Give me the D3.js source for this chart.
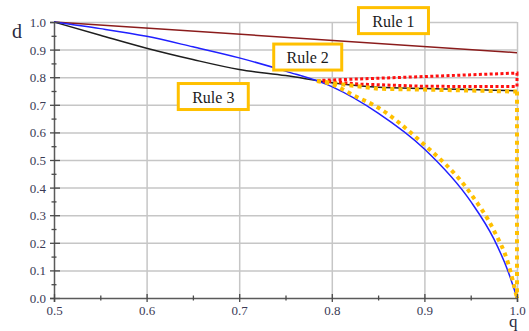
<!DOCTYPE html>
<html lang="en">
<head>
    <meta charset="UTF-8">
    <title>Rules d vs q</title>
    <script src="https://d3js.org/d3.v7.min.js"></script>
    <style>
        body { margin: 0; background: #fff; }
        svg { display: block; }
    </style>
</head>
<body>
    <script>
        // rule 1 (dark red, straight), rule 2 (blue), rule 3 (black)
        const rule1Q = [0.5, 1.0];
        const rule1D = [1.0, 0.889];

        const blueQ = [0.5, 0.55, 0.6, 0.65, 0.7, 0.75, 0.8, 0.85, 0.9, 0.95, 0.975, 0.99, 1.0];
        const blueD = [1.0, 0.976, 0.948, 0.91, 0.87, 0.822, 0.766, 0.67, 0.54, 0.35, 0.214, 0.1, 0.0];

        const blackQ = [0.5, 0.55, 0.6, 0.65, 0.7, 0.75, 0.8, 0.85, 0.9, 0.95, 1.0];
        const blackD = [1.0, 0.952, 0.905, 0.864, 0.828, 0.806, 0.78, 0.764, 0.759, 0.755, 0.751];

        // red dotted region
        const redQ = [0.784, 1.0, 1.0, 0.9, 0.83, 0.784];
        const redD = [0.788, 0.815, 0.766, 0.767, 0.775, 0.788];

        // orange dotted region: top edge, right edge, curved edge
        const orangeTopQ = [0.784, 0.85, 0.9, 1.0];
        const orangeTopD = [0.786, 0.758, 0.755, 0.748];
        const orangeSideQ = [1.0, 1.0];
        const orangeSideD = [0.748, 0.0];
        const orangeCurveQ = [0.784, 0.8, 0.823, 0.85, 0.895, 0.95, 0.975, 0.99, 1.0];
        const orangeCurveD = [0.786, 0.775, 0.735, 0.69, 0.57, 0.378, 0.245, 0.13, 0.0];

        const xTicks = [0.5, 0.6, 0.7, 0.8, 0.9, 1.0];
        const yTicks = [0.0, 0.1, 0.2, 0.3, 0.4, 0.5, 0.6, 0.7, 0.8, 0.9, 1.0];
        const xMinor = [0.55, 0.65, 0.75, 0.85, 0.95];
        const yMinor = [0.05, 0.15, 0.25, 0.35, 0.45, 0.55, 0.65, 0.75, 0.85, 0.95];

        // label box centres, in data units
        const labels = ["Rule 1", "Rule 2", "Rule 3"];
        const labelQ = [0.8666, 0.774, 0.672];
        const labelD = [1.005, 0.873, 0.730];

        const w = 529;
        const h = 331;
        const serif = "Liberation Serif, serif";

        const x = d3.scaleLinear().domain([0.5, 1.0]).range([54, 517]);
        const y = d3.scaleLinear().domain([0, 1]).range([298, 22]);

        const svg = d3.select("body").append("svg")
            .attr("width", w)
            .attr("height", h);

        const zip = (qs, ds) => qs.map((q, i) => [q, ds[i]]);

        // grid
        svg.append("g")
            .attr("transform", "translate(0,298)")
            .call(d3.axisBottom(x).tickValues(xTicks.slice(1)).tickSize(-276).tickFormat(""))
            .call(g => g.select(".domain").remove())
            .call(g => g.selectAll("line").attr("stroke", "#c6c6c6").attr("stroke-width", 1.5));
        svg.append("g")
            .attr("transform", "translate(54,0)")
            .call(d3.axisLeft(y).tickValues(yTicks.slice(1)).tickSize(-463).tickFormat(""))
            .call(g => g.select(".domain").remove())
            .call(g => g.selectAll("line").attr("stroke", "#c6c6c6").attr("stroke-width", 1.5));

        const smooth = d3.line().x(d => x(d[0])).y(d => y(d[1])).curve(d3.curveMonotoneX);
        const straight = d3.line().x(d => x(d[0])).y(d => y(d[1]));

        svg.append("path").attr("d", straight(zip(rule1Q, rule1D)))
            .attr("fill", "none").attr("stroke", "#8b1c1c").attr("stroke-width", 1.5);
        svg.append("path").attr("d", smooth(zip(blackQ, blackD)))
            .attr("fill", "none").attr("stroke", "#1e1e1e").attr("stroke-width", 1.5);
        svg.append("path").attr("d", smooth(zip(blueQ, blueD)))
            .attr("fill", "none").attr("stroke", "#2020ff").attr("stroke-width", 1.5);

        // dotted regions
        svg.append("path").attr("d", straight(zip(redQ, redD)))
            .attr("fill", "none").attr("stroke", "#ff1010").attr("stroke-width", 3)
            .attr("stroke-dasharray", "3,2.4");

        const orange = svg.append("g")
            .attr("fill", "none").attr("stroke", "#ffc000").attr("stroke-width", 4)
            .attr("stroke-dasharray", "4,4.2");
        orange.append("path").attr("d", straight(zip(orangeTopQ, orangeTopD)));
        orange.append("path").attr("d", straight(zip(orangeSideQ, orangeSideD)));
        orange.append("path").attr("d", smooth(zip(orangeCurveQ, orangeCurveD)));

        // axes
        const yAxis = svg.append("g")
            .attr("transform", "translate(54,0)")
            .call(d3.axisLeft(y).tickValues(yTicks).tickSize(4).tickPadding(4).tickFormat(d3.format(".1f")));
        yAxis.selectAll(".tick line").attr("x1", 6);
        yAxis.selectAll(".tick text").attr("dy", "0.35em");

        const yMin = svg.append("g")
            .attr("transform", "translate(54,0)")
            .call(d3.axisLeft(y).tickValues(yMinor).tickSize(2.5).tickFormat(""));
        yMin.selectAll(".tick line").attr("x1", 2.5);
        yMin.select(".domain").remove();

        const xAxis = svg.append("g")
            .attr("transform", "translate(0,298)")
            .call(d3.axisBottom(x).tickValues(xTicks).tickSize(4).tickFormat(d3.format(".1f")));
        xAxis.selectAll(".tick line").attr("y1", -4);
        xAxis.selectAll(".tick text").attr("y", 17).attr("dy", 0);

        const xMin = svg.append("g")
            .attr("transform", "translate(0,298)")
            .call(d3.axisBottom(x).tickValues(xMinor).tickSize(2.5).tickFormat(""));
        xMin.selectAll(".tick line").attr("y1", -2.5);
        xMin.select(".domain").remove();

        [yAxis, xAxis].forEach(a => a.attr("font-family", serif).attr("font-size", 13)
            .selectAll(".tick text").attr("fill", "#3a3a55"));

        svg.selectAll(".domain").attr("stroke", "#5a5a5a").attr("stroke-width", 1.5);
        [yAxis, yMin, xAxis, xMin].forEach(a => a.selectAll(".tick line")
            .attr("stroke", "#4a4a4a").attr("stroke-width", 1.3));

        // axis titles
        svg.append("text").attr("x", 12).attr("y", 38).text("d")
            .attr("font-family", serif).attr("font-size", 20).attr("fill", "#2a2a40");
        svg.append("text").attr("x", 509).attr("y", 327).text("q")
            .attr("font-family", serif).attr("font-size", 17).attr("fill", "#2a2a40");

        // rule labels
        const boxW = [70, 68, 70];
        const lab = svg.selectAll(".rule").data(labels).enter().append("g").attr("class", "rule")
            .attr("transform", (d, i) => `translate(${x(labelQ[i])},${y(labelD[i])})`);
        lab.append("rect")
            .attr("x", (d, i) => -boxW[i] / 2).attr("y", -13)
            .attr("width", (d, i) => boxW[i]).attr("height", 26)
            .attr("fill", "#fff").attr("stroke", "#ffc000").attr("stroke-width", 3);
        lab.append("text").text(d => d)
            .attr("text-anchor", "middle").attr("y", 6)
            .attr("font-family", serif).attr("font-size", 16).attr("fill", "#1a1a1a");
    </script>
</body>
</html>
